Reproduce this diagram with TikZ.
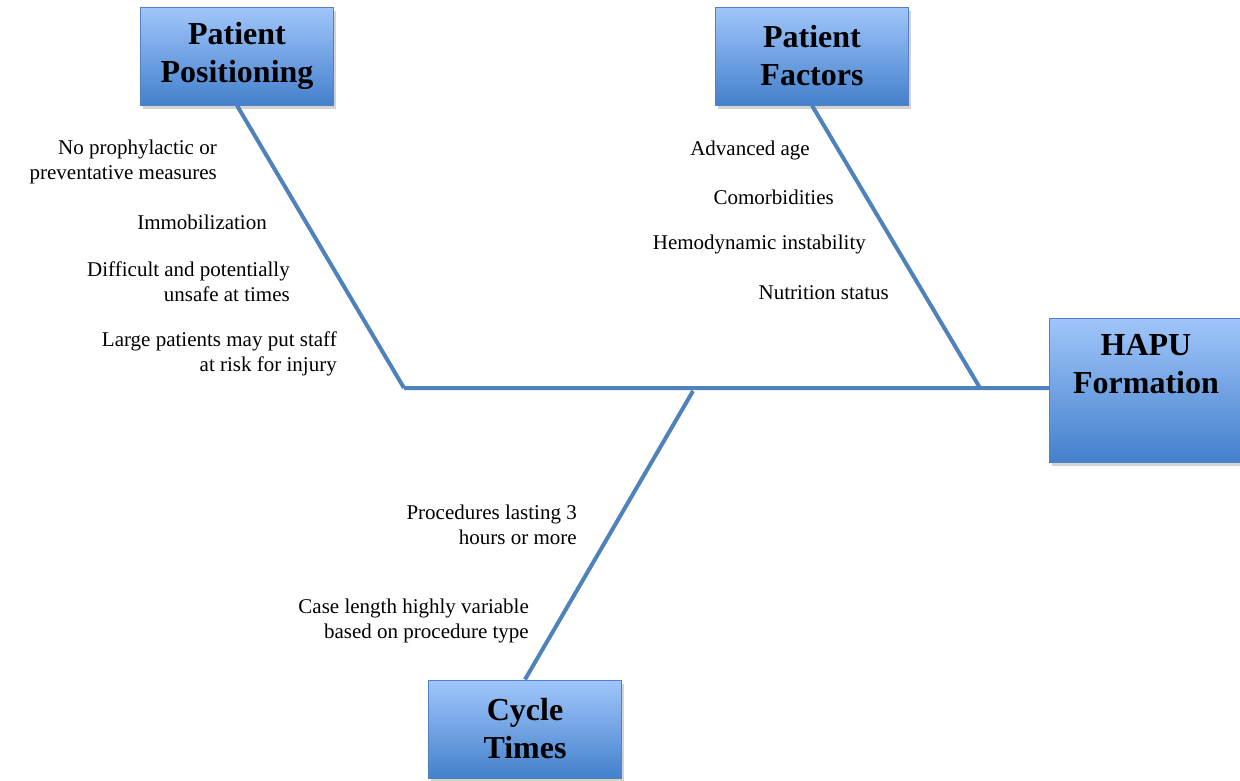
\documentclass[tikz,border=0pt]{standalone}
\usepackage{fontspec}
\setmainfont{Liberation Serif}
\usepackage{tikz}
\usetikzlibrary{positioning,shadows}
\definecolor{bonecol}{RGB}{79,129,189}
\definecolor{boxtop}{RGB}{160,198,250}
\definecolor{boxbot}{RGB}{68,128,204}
\definecolor{boxline}{RGB}{80,130,195}
\tikzset{cause box/.style={draw=boxline,line width=1pt,top color=boxtop,bottom color=boxbot,
        drop shadow={shadow xshift=2pt,shadow yshift=-4pt,opacity=0.35},
        minimum width=193,minimum height=98,align=center,font=\fontsize{32}{38}\selectfont\bfseries}}
\tikzset{bone/.style={draw=bonecol,line width=4pt}}
\tikzset{reason/.style={anchor=east,align=right,inner sep=0pt,font=\fontsize{21}{25}\selectfont}}

\begin{document}
\begin{tikzpicture}[x=1pt,y=-1pt]
    \useasboundingbox (0,0) rectangle (1240,780);
    \node[cause box] (pos)  at (237,56)  {Patient\\Positioning};
    \node[cause box] (fac)  at (812,56)  {Patient\\Factors};
    \node[cause box,minimum height=144,text depth=52pt] (hapu) at (1146,390) {HAPU\\Formation};
    \node[cause box] (cyc)  at (525,729) {Cycle\\Times};
    \coordinate (posEnd) at (404,388);
    \coordinate (facEnd) at (980,388);
    \coordinate (cycEnd) at (693,391);
    \path[bone]
        (posEnd) -- (hapu.west |- posEnd)
        (pos.south) -- (posEnd)
        (fac.south) -- (facEnd)
        (cyc.north) -- (cycEnd)
    ;
    % patient positioning
    \node[reason] (p1) at (217,162) {No prophylactic or\\preventative measures};
    \node[reason] (p2) at (267,222) {Immobilization};
    \node[reason] (p3) at (290,282) {Difficult and potentially\\unsafe at times};
    \node[reason] (p4) at (337,354) {Large patients may put staff\\at risk for injury};
    % patient factors
    \node[reason] (f1) at (810,150) {Advanced age};
    \node[reason] (f2) at (834,197) {Comorbidities};
    \node[reason] (f3) at (866,244) {Hemodynamic instability};
    \node[reason] (f4) at (889,293) {Nutrition status};
    % cycle times
    \node[reason] (c1) at (577,525) {Procedures lasting 3\\hours or more};
    \node[reason] (c2) at (529,621) {Case length highly variable\\based on procedure type};
\end{tikzpicture}
\end{document}
